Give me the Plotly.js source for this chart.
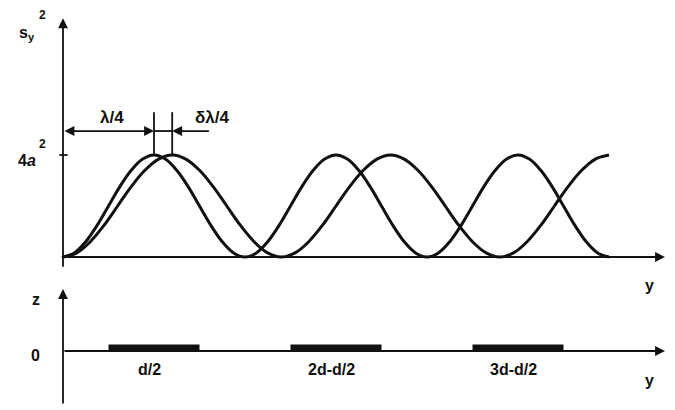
<!DOCTYPE html>
<html>
<head>
<meta charset="utf-8">
<script src="https://cdn.plot.ly/plotly-3.0.1.min.js"></script>
<style>html,body{margin:0;padding:0;background:#fff;}#chart{width:675px;height:410px;}</style>
</head>
<body>
<div id="chart"></div>
<script>
// Position along y in units of lambda/4 ; intensity in units of 4a^2
const yWaveA = [0,0.125,0.25,0.375,0.5,0.625,0.75,0.875,1,1.125,1.25,1.375,1.5,1.625,1.75,1.875,2,2.125,2.25,2.375,2.5,2.625,2.75,2.875,3,3.125,3.25,3.375,3.5,3.625,3.75,3.875,4,4.125,4.25,4.375,4.5,4.625,4.75,4.875,5,5.125,5.25,5.375,5.5,5.625,5.75,5.875,6];
const sWaveA = [0,0.04,0.15,0.31,0.5,0.69,0.85,0.96,1, 0.96,0.85,0.69,0.5,0.31,0.15,0.04,0, 0.04,0.15,0.31,0.5,0.69,0.85,0.96,1, 0.96,0.85,0.69,0.5,0.31,0.15,0.04,0, 0.04,0.15,0.31,0.5,0.69,0.85,0.96,1, 0.96,0.85,0.69,0.5,0.31,0.15,0.04,0];
const yWaveB = [0,0.15,0.3,0.45,0.6,0.75,0.9,1.05,1.2,1.35,1.5,1.65,1.8,1.95,2.1,2.25,2.4,2.55,2.7,2.85,3,3.15,3.3,3.45,3.6,3.75,3.9,4.05,4.2,4.35,4.5,4.65,4.8,4.95,5.1,5.25,5.4,5.55,5.7,5.85,6];
const sWaveB = [0,0.04,0.15,0.31,0.5,0.69,0.85,0.96,1, 0.96,0.85,0.69,0.5,0.31,0.15,0.04,0, 0.04,0.15,0.31,0.5,0.69,0.85,0.96,1, 0.96,0.85,0.69,0.5,0.31,0.15,0.04,0, 0.04,0.15,0.31,0.5,0.69,0.85,0.96,1];
// Strips in the lower panel
const stripCenters = [1,3,5];
const stripWidth = 1;
const stripLabels = ['d/2','2d-d/2','3d-d/2'];
// Annotated positions
const peakA = 1;       // lambda/4
const peakB = 1.2;     // (lambda + delta lambda)/4

const stripX = [], stripZ = [];
stripCenters.forEach(c => { stripX.push(c - stripWidth/2, c + stripWidth/2, null); stripZ.push(3, 3, null); });

const font = {family: 'Liberation Sans, Arial, sans-serif', size: 16, color: '#111', weight: 'bold'};
const lineCol = '#111';

const traces = [
  {x: yWaveA, y: sWaveA, mode: 'lines', line: {color: lineCol, width: 3, shape: 'spline'}, hoverinfo: 'skip'},
  {x: yWaveB, y: sWaveB, mode: 'lines', line: {color: lineCol, width: 3, shape: 'spline'}, hoverinfo: 'skip'},
  {x: stripX, y: stripZ, yaxis: 'y2', mode: 'lines', line: {color: lineCol, width: 7}, hoverinfo: 'skip'}
];

function arrow(x, y, ax, ay, yref, side) {
  return {x: x, y: y, ax: ax, ay: ay, xref: 'x', yref: yref, axref: 'x', ayref: yref,
    text: '', showarrow: true, arrowhead: 2, startarrowhead: 2, arrowsize: 1.1, startarrowsize: 1.1,
    arrowwidth: 1.8, arrowcolor: lineCol, arrowside: side || 'end'};
}
function label(text, x, y, yref, size) {
  return {x: x, y: y, xref: 'x', yref: yref, text: text, showarrow: false,
    font: Object.assign({}, font, size ? {size: size} : {}), xanchor: 'center', yanchor: 'middle'};
}

const annotations = [
  // top axes
  arrow(0, 2.34, 0, -0.11, 'y'),
  arrow(6.615, 0, -0.03, 0, 'y'),
  // bottom axes
  arrow(0, 62, 0, -54, 'y2'),
  arrow(6.615, 0, 0, 0, 'y2'),
  // dimension arrows
  arrow(peakA, 1.235, 0, 1.235, 'y', 'end+start'),
  arrow(peakB, 1.235, 1.62, 1.235, 'y'),
  // labels
  label('s<sub>y</sub>', -0.4, 2.19, 'y', 16),
  label('2', -0.22, 2.37, 'y', 12),
  label('4<i>a</i>', -0.4, 0.95, 'y', 16),
  label('2', -0.22, 1.11, 'y', 12),
  label('λ/4', 0.54, 1.37, 'y', 17),
  label('δλ/4', 1.64, 1.37, 'y', 17),
  label('y', 6.45, -0.28, 'y', 16),
  label('z', -0.3, 52, 'y2', 16),
  label('0', -0.3, -4, 'y2', 16),
  label('y', 6.45, -29, 'y2', 16)
];
stripCenters.forEach((c, i) => annotations.push(label(stripLabels[i], c - 0.05, -18, 'y2', 16)));

const shapes = [
  {type: 'line', xref: 'x', yref: 'y', x0: peakA, x1: peakB, y0: 1.235, y1: 1.235, line: {color: lineCol, width: 1.8}},
  {type: 'line', xref: 'x', yref: 'y', x0: peakA, x1: peakA, y0: 1, y1: 1.42, line: {color: lineCol, width: 1.8}},
  {type: 'line', xref: 'x', yref: 'y', x0: peakB, x1: peakB, y0: 1, y1: 1.42, line: {color: lineCol, width: 1.8}},
  {type: 'line', xref: 'x', yref: 'y', x0: -0.04, x1: 0.05, y0: 1, y1: 1, line: {color: lineCol, width: 1.8}}
];

const layout = {
  width: 675, height: 410,
  margin: {l: 0, r: 0, t: 0, b: 0},
  paper_bgcolor: '#fff', plot_bgcolor: '#fff',
  showlegend: false,
  xaxis: {range: [-63/91, 612/91], visible: false, fixedrange: true},
  yaxis: {range: [-1.5, 257/102], visible: false, fixedrange: true},
  yaxis2: {range: [-59, 351], overlaying: 'y', visible: false, fixedrange: true},
  annotations: annotations,
  shapes: shapes
};

Plotly.newPlot('chart', traces, layout, {staticPlot: true, displayModeBar: false});
</script>
</body>
</html>
